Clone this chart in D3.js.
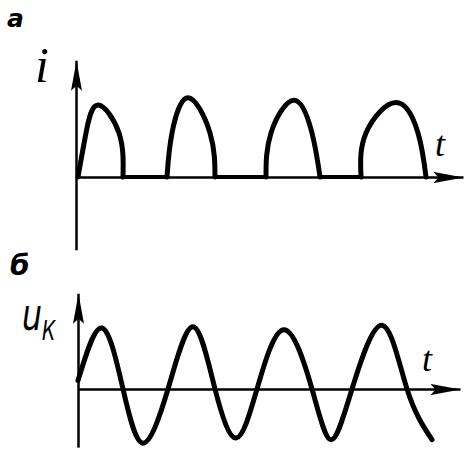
<!DOCTYPE html>
<html>
<head>
<meta charset="utf-8">
<script src="https://cdn.jsdelivr.net/npm/d3@7"></script>
<style>
  body { margin: 0; background: #fff; }
  .curve { fill: none; stroke: #000; stroke-linejoin: round; stroke-linecap: round; }
  .axis path { stroke: #000; stroke-width: 2.5; }
  .lbl { fill: #000; }
</style>
</head>
<body>
<script>
const width = 468;
const height = 450;

// panel a: half-wave current i(t), 5 points per pulse (start, rise, top, fall, end)
var iTime  = [0.1, 0.9, 2.1, 4.2, 4.6,   9.0, 9.5, 11.1, 13.3, 13.8,   18.9, 19.4, 21.7, 23.5, 24.3,   28.4, 28.9, 31.9, 34.1, 34.9];
var iValue = [0,   0.55, 0.9, 0.55, 0,   0,   0.55, 0.99, 0.55, 0,     0,    0.55, 0.96, 0.55, 0,      0,    0.55, 0.93, 0.55, 0];

// panel б: voltage u_K(t)
var uTime  = [0.1, 2.5, 4.6, 6.6, 9.1, 11.6, 13.8, 15.9, 18.0, 20.7, 23.5, 25.4, 27.5, 30.5, 33.0, 35.5];
var uValue = [0.15, 1.07, 0, -0.95, 0, 1.09, 0, -0.86, 0, 1.04, 0, -0.89, 0, 1.12, 0, -0.89];

// labels
var panelLabels = ["а", "б"];
var iLabel = "i";
var uLabel = "u";
var uSub = "К";
var tLabel = "t";

var svg = d3.select("body").append("svg")
    .attr("width", width)
    .attr("height", height);

// arrowhead marker, long and narrow like the hand drawn ones
svg.append("defs").append("marker")
    .attr("id", "arrow")
    .attr("markerUnits", "userSpaceOnUse")
    .attr("markerWidth", 40)
    .attr("markerHeight", 16)
    .attr("viewBox", "0 -8 40 16")
    .attr("refX", 30)
    .attr("refY", 0)
    .attr("orient", "auto")
    .append("path")
    .attr("d", "M0,-5.5L30,0L0,5.5L5,0Z")
    .attr("fill", "#000");

var x = d3.scaleLinear().domain([0, 10]).range([77, 177]);

function drawAxes(g, yScale, yLo, yHi, xHi, xAxisX0) {
    var xs = x.copy().domain([0, xHi]).range([xAxisX0, x(xHi)]);
    g.append("g")
        .attr("class", "axis")
        .attr("transform", "translate(0," + yScale(0) + ")")
        .call(d3.axisBottom(xs).tickValues([]).tickSizeOuter(0))
        .select(".domain").attr("marker-end", "url(#arrow)");
    var ys = yScale.copy().domain([yLo, yHi]).range([yScale(yLo), yScale(yHi)]);
    g.append("g")
        .attr("class", "axis")
        .attr("transform", "translate(" + xAxisX0 + ",0)")
        .call(d3.axisLeft(ys).tickValues([]).tickSizeOuter(0))
        .select(".domain").attr("marker-end", "url(#arrow)");
}

// --- panel a ---
var yI = d3.scaleLinear().domain([0, 1]).range([177, 97]);
var gA = svg.append("g");
drawAxes(gA, yI, -0.91, 1.46, 38.6, 76);

var iPts = iTime.map(function (t, k) { return [t, iValue[k]]; });
var pulses = d3.range(0, iPts.length, 5).map(function (k) { return iPts.slice(k, k + 5); });

var pulseLine = d3.line()
    .x(function (d) { return x(d[0]); })
    .y(function (d) { return yI(d[1]); })
    .curve(d3.curveNatural);

// flat parts of the current between pulses
var gaps = d3.range(1, pulses.length).map(function (k) {
    return [pulses[k - 1][4], pulses[k][0]];
});
gA.selectAll(".gap")
    .data(gaps)
    .enter()
    .append("path")
    .attr("class", "curve gap")
    .attr("stroke-width", 4)
    .attr("d", d3.line().x(function (d) { return x(d[0]); }).y(function (d) { return yI(d[1]); }));

gA.selectAll(".pulse")
    .data(pulses)
    .enter()
    .append("path")
    .attr("class", "curve pulse")
    .attr("stroke-width", 5)
    .attr("d", pulseLine);

// --- panel б ---
var yU = d3.scaleLinear().domain([-1, 1]).range([446, 332]);
var gB = svg.append("g");
drawAxes(gB, yU, -1.02, 1.68, 38.3, 78);

var uLine = d3.line()
    .x(function (d, k) { return x(uTime[k]); })
    .y(function (d) { return yU(d); })
    .curve(d3.curveNatural);

gB.append("path")
    .attr("class", "curve")
    .attr("stroke-width", 5)
    .attr("d", uLine(uValue));

// --- text ---
svg.append("text").attr("class", "lbl")
    .attr("x", 7).attr("y", 27)
    .style("font", "italic bold 25px 'DejaVu Sans'")
    .text(panelLabels[0]);

svg.append("text").attr("class", "lbl")
    .attr("x", 10).attr("y", 275)
    .style("font", "italic bold 28px 'DejaVu Sans'")
    .text(panelLabels[1]);

svg.append("text").attr("class", "lbl")
    .attr("x", 35).attr("y", 82)
    .style("font", "italic 50px 'Liberation Serif'")
    .text(iLabel);

svg.append("text").attr("class", "lbl")
    .attr("x", 435).attr("y", 156)
    .style("font", "italic 36px 'Liberation Serif'")
    .text(tLabel);

svg.append("text").attr("class", "lbl")
    .attr("x", 422).attr("y", 371)
    .style("font", "italic 36px 'Liberation Serif'")
    .text(tLabel);

var uText = svg.append("text").attr("class", "lbl")
    .attr("transform", "translate(22,330) scale(0.72,1)")
    .style("font", "italic 44px 'DejaVu Sans'");
uText.append("tspan").text(uLabel);
uText.append("tspan")
    .attr("dy", 10)
    .style("font-size", "26px")
    .text(uSub);
</script>
</body>
</html>
